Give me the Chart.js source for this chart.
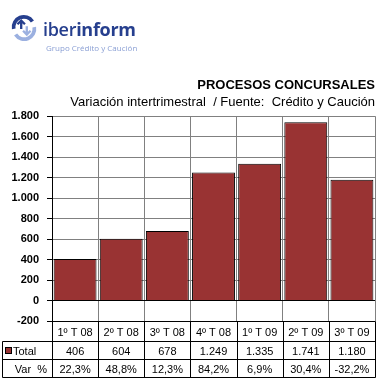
<!DOCTYPE html>
<html>
<head>
<meta charset="utf-8">
<script src="https://cdn.jsdelivr.net/npm/chart.js@4"></script>
<style>
  html, body { margin: 0; padding: 0; background: #fff; }
  #wrap { position: relative; width: 378px; height: 381px; }
  #chartCanvas { position: absolute; left: 0; top: 0; }
  #logo { position: absolute; left: 10px; top: 14px; }
  #logoName { position: absolute; left: 43px; top: 17px; font-family: "Open Sans", "DejaVu Sans", sans-serif; font-size: 18px; color: #263f8e; letter-spacing: -0.3px; }
  #logoName b { font-weight: 700; }
  #logoName span { font-weight: 600; }
  #logoSub { position: absolute; left: 46px; top: 42px; font-family: "Open Sans", "DejaVu Sans", sans-serif; font-size: 8px; color: #8a9fd4; }
</style>
</head>
<body>
<div id="wrap">
  <canvas id="chartCanvas" width="378" height="381"></canvas>
  <svg id="logo" width="28" height="28" viewBox="0 0 30 30">
    <path d="M4 16 A11 11 0 0 1 24 8" fill="none" stroke="#263f8e" stroke-width="4"/>
    <path d="M26 14 A11 11 0 0 1 6 22" fill="none" stroke="#9bb0e0" stroke-width="4"/>
    <path d="M12 16 L12 8 M8 11 L12 7 L16 11" fill="none" stroke="#263f8e" stroke-width="2.5"/>
    <path d="M18 13 L18 21 M14 18 L18 22 L22 18" fill="none" stroke="#9bb0e0" stroke-width="2.5"/>
  </svg>
  <div id="logoName"><span>iber</span><b>inform</b></div>
  <div id="logoSub">Grupo Crédito y Caución</div>
</div>
<script>
var categories = ["1º T 08", "2º T 08", "3º T 08", "4º T 08", "1º T 09", "2º T 09", "3º T 09"];
var totalValues = [406, 604, 678, 1249, 1335, 1741, 1180];
var varValues = [22.3, 48.8, 12.3, 84.2, 6.9, 30.4, -32.2];
var barColor = "#993333";

function formatMiles(v) {
  return v.toString().replace(/\B(?=(\d{3})+(?!\d))/g, ".");
}

function formatVar(v) {
  return v.toFixed(1).replace(".", ",") + "%";
}

var tablePlugin = {
  id: "dataTable",
  afterDraw: function (chart) {
    var ctx = chart.ctx;
    var area = chart.chartArea;
    var n = categories.length;
    var step = (area.right - area.left) / n;
    var top = Math.round(area.bottom) + 0.5;
    var r1 = top + 20;
    var r2 = r1 + 18;
    var r3 = r2 + 18;
    var left = 2.5;
    var x0 = Math.round(area.left) + 0.5;
    var x1 = Math.round(area.right) + 0.5;

    ctx.save();
    ctx.strokeStyle = "#000";
    ctx.lineWidth = 1;
    ctx.beginPath();
    ctx.moveTo(x0, top); ctx.lineTo(x1, top);
    ctx.moveTo(left, r1); ctx.lineTo(x1, r1);
    ctx.moveTo(left, r2); ctx.lineTo(x1, r2);
    ctx.moveTo(left, r3); ctx.lineTo(x1, r3);
    ctx.moveTo(left, r1); ctx.lineTo(left, r3);
    for (var i = 0; i <= n; i++) {
      var bx = Math.round(area.left + step * i) + 0.5;
      ctx.moveTo(bx, top); ctx.lineTo(bx, r3);
    }
    ctx.stroke();

    ctx.fillStyle = "#000";
    ctx.font = "11px 'Liberation Sans', Arial, sans-serif";
    ctx.textBaseline = "middle";
    ctx.textAlign = "center";
    for (var j = 0; j < n; j++) {
      var cx = chart.scales.x.getPixelForValue(j);
      ctx.fillText(categories[j], cx, (top + r1) / 2 + 1);
      ctx.fillText(formatMiles(totalValues[j]), cx, (r1 + r2) / 2 + 1);
      ctx.fillText(formatVar(varValues[j]), cx, (r2 + r3) / 2 + 1);
    }

    ctx.fillStyle = barColor;
    ctx.fillRect(5.5, (r1 + r2) / 2 - 3, 6, 6);
    ctx.strokeRect(5.5, (r1 + r2) / 2 - 3, 6, 6);
    ctx.fillStyle = "#000";
    ctx.textAlign = "left";
    ctx.fillText("Total", 13, (r1 + r2) / 2 + 1);
    ctx.textAlign = "right";
    ctx.fillText("Var  %", 47, (r2 + r3) / 2 + 1);
    ctx.restore();
  }
};

var canvas = document.getElementById("chartCanvas");
var ctx = canvas.getContext("2d");
var myChart = new Chart(ctx, {
  type: "bar",
  data: {
    labels: categories,
    datasets: [
      {
        label: "Total",
        data: totalValues,
        backgroundColor: barColor,
        borderColor: "#000",
        borderWidth: 1,
        barPercentage: 0.93,
        categoryPercentage: 1.0,
      },
    ],
  },
  options: {
    responsive: false,
    animation: false,
    layout: {
      padding: { left: 2, right: 3, top: 0, bottom: 0 },
    },
    plugins: {
      legend: { display: false },
      tooltip: { enabled: false },
      title: {
        display: true,
        text: "PROCESOS CONCURSALES",
        align: "end",
        color: "#000",
        font: { family: "'Liberation Sans', Arial, sans-serif", size: 13, weight: "bold" },
        padding: { top: 78, bottom: 0 },
      },
      subtitle: {
        display: true,
        text: "Variación intertrimestral  / Fuente:  Crédito y Caución",
        align: "end",
        color: "#000",
        font: { family: "'Liberation Sans', Arial, sans-serif", size: 13 },
        padding: { top: 1, bottom: 6 },
      },
    },
    scales: {
      x: {
        offset: true,
        grid: { color: "#808080", drawTicks: false, offset: true },
        border: { display: false },
        ticks: { display: false },
        afterFit: function (scale) {
          scale.height = 60;
        },
      },
      y: {
        min: -200,
        max: 1800,
        ticks: {
          stepSize: 200,
          padding: 8,
          color: "#000",
          font: { family: "'Liberation Sans', Arial, sans-serif", size: 11, weight: "bold" },
          callback: function (value) {
            return formatMiles(value);
          },
        },
        grid: {
          color: function (c) {
            return c.tick && c.tick.value === 0 ? "#000" : "#808080";
          },
          tickColor: "#000",
          tickLength: 5,
        },
        border: { color: "#000", width: 1 },
        afterFit: function (scale) {
          scale.width = 50;
        },
      },
    },
  },
  plugins: [tablePlugin],
});
</script>
</body>
</html>
